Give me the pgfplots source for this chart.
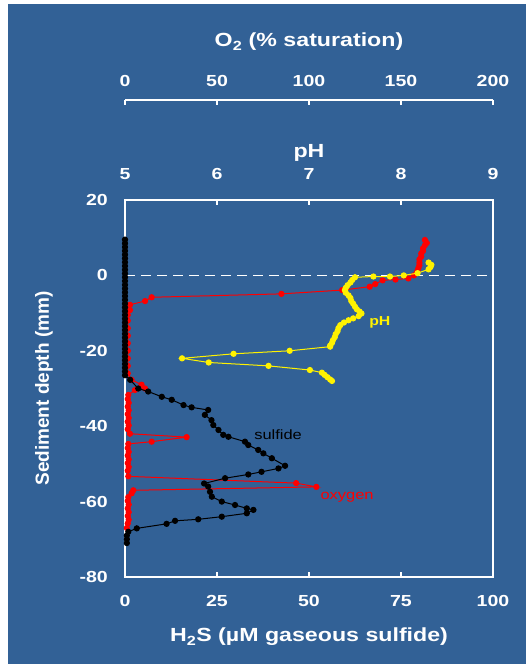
\documentclass[border=0pt]{standalone}
\usepackage{pgfplots}
\pgfplotsset{compat=1.18}
\usepackage{fontspec}
\setmainfont{Liberation Sans}[FakeStretch=1.22]
\newfontfamily\plainfont{Liberation Sans}
\definecolor{bgblue}{RGB}{50,97,150}
\pgfplotsset{
  base/.style={scale only axis, width=368pt, height=377pt,
    at={(125pt,87pt)}, anchor=south west, ymin=-80, ymax=20,
    tick align=inside, major tick length=5pt,
    every tick/.style={white, line width=1.3pt},
    axis line style={white, line width=1.6pt},
    tick label style={font=\bfseries\fontsize{16}{16}\selectfont, text=white, inner sep=0pt},
    /pgf/number format/assume math mode=true,
    label style={font=\bfseries\fontsize{19}{19}\selectfont, text=white}},
  dat/.style={line width=1pt, mark=*, mark size=2.6pt}
}
\begin{document}
\begin{tikzpicture}
\fill[white] (0pt,0pt) rectangle (526pt,664pt);
\fill[bgblue] (8pt,0pt) rectangle (526pt,660pt);
% main axis: H2S
\begin{axis}[base, xmin=0, xmax=100,
  xtick={0,25,50,75,100}, xticklabels={0,25,50,75,100}, xtick pos=left,
  ytick={-80,-60,-40,-20,0,20}, yticklabels={-80,-60,-40,-20,0,20}, ytick pos=left,
  xticklabel style={yshift=-18pt}, yticklabel style={xshift=-17pt},
  xlabel={H\textsubscript{2}S (µM gaseous sulfide)},
  xlabel style={at={(axis description cs:0.5,-0.1724)}, anchor=base},
  ylabel={Sediment depth (mm)},
  ylabel style={at={(axis description cs:-0.22,0.5)}, anchor=center, font=\plainfont\bfseries\fontsize{19}{19}\selectfont}]
\addplot[white, line width=1.2pt, dash pattern=on 10pt off 6pt] coordinates {(0,0) (100,0)};
\end{axis}
% oxygen data
\begin{axis}[base, xmin=0, xmax=200, hide axis]
\addplot[dat, red] coordinates {
(163,9.4) (164,8.6) (163,8.0) (162,7.2) (162,6.5) (161,5.8) (161,5.0) (160,4.2) (160,3.4) (160,2.7)
(159.5,2.0) (159,1.3) (158.5,0.6) (157,0.0) (154,-0.8) (147,-1.1) (140,-1.3) (136,-2.3) (133,-3.0)
(118,-3.9) (85,-4.9) (14.5,-5.8) (10.9,-6.8) (2.7,-7.8) (2.7,-9.2) (1.5,-10.5) (1.5,-12) (1.5,-14)
(1.5,-16) (1.5,-18) (1.5,-20) (1.5,-22) (1.5,-24) (1.5,-26) (3.6,-27.7) (9,-29) (10.9,-30) (5.4,-30.4)
(1.8,-31.7) (1.5,-32.8) (2,-33.8) (1.5,-34.8) (2,-35.8) (1.5,-36.8) (2,-37.8) (1.5,-38.8) (2,-39.8)
(1.5,-40.8) (2.7,-42.0) (33.5,-42.9) (14.5,-44.1) (1.8,-44.7) (1.5,-45.8) (2,-46.8) (1.5,-47.8)
(2,-48.8) (1.5,-49.8) (2,-50.8) (1.5,-51.8) (1.8,-53.3) (93,-55.1) (104,-56.1) (4.5,-57.0) (3.6,-57.8)
(1.8,-58.8) (1.5,-59.8) (2,-60.8) (1.5,-61.8) (2,-62.8) (1.5,-63.8) (2,-64.8) (1.5,-65.8) (1,-67.0)
};
\node[text=red, font=\fontsize{13.5}{13.5}\selectfont] at (axis cs:120.7,-58.9) {oxygen};
\end{axis}
% sulfide data
\begin{axis}[base, xmin=0, xmax=100, hide axis]
\addplot[dat, black] coordinates {
(0,9.5) (0,8.5) (0,7.5) (0,6.5) (0,5.5) (0,4.5) (0,3.5) (0,2.5) (0,1.5) (0,0.5) (0,-0.5) (0,-1.5)
(0,-2.5) (0,-3.5) (0,-4.5) (0,-5.5) (0,-6.5) (0,-7.5) (0,-8.5) (0,-9.5) (0,-10.5) (0,-11.5) (0,-12.5)
(0,-13.5) (0,-14.5) (0,-15.5) (0,-16.5) (0,-17.5) (0,-18.5) (0,-19.5) (0,-20.5) (0,-21.5) (0,-22.5)
(0,-23.5) (0,-24.5) (0,-25.5) (0,-26.5) (1.4,-27.7) (3.6,-30) (6.3,-30.8) (10,-32.2) (12.7,-33)
(15.9,-34.4) (18.1,-35) (22.6,-35.7) (21.7,-37) (23.5,-38.4) (24,-39.7) (25.4,-41) (26.7,-42.3)
(28.1,-42.8) (32.6,-44.1) (33.5,-45) (36.2,-46.3) (37.6,-47.2) (39.9,-48.5) (43.5,-50.5) (41.7,-51.2)
(37.1,-52.1) (33.5,-52.8) (27.2,-53.8) (21.5,-55.2) (22.6,-56) (23.1,-57.4) (23.6,-58.7) (26.3,-60)
(29.9,-60.9) (33.1,-61.8) (34.9,-62.2) (33.1,-63.1) (26.3,-64) (19.9,-64.7) (13.6,-65.1) (11.3,-65.9)
(3.2,-67.1) (0.9,-68) (0.5,-69) (0.5,-70) (0.5,-71)
};
\node[text=black, font=\fontsize{13.5}{13.5}\selectfont] at (axis cs:41.6,-42.3) {sulfide};
\end{axis}
% pH axis and data
\begin{axis}[base, xmin=5, xmax=9, axis x line*=top, axis y line=none,
  xtick={5,6,7,8,9}, xticklabels={5,6,7,8,9}, xticklabel style={yshift=20pt},
  xlabel={pH}, xlabel style={at={(axis description cs:0.5,1.1114)}, anchor=base}]
\addplot[dat, yellow] coordinates {
(8.30,3.4) (8.33,2.8) (8.32,2.2) (8.30,1.6) (8.18,0.6) (8.03,0) (7.88,-0.3) (7.70,-0.3) (7.5,-0.5)
(7.47,-1.2) (7.45,-1.9) (7.42,-2.6) (7.40,-3.3) (7.39,-3.9) (7.40,-4.6) (7.43,-5.3) (7.45,-6.0)
(7.46,-6.8) (7.48,-7.5) (7.50,-8.3) (7.52,-9.0) (7.55,-9.6) (7.57,-10.1) (7.54,-10.8) (7.48,-11.4)
(7.43,-11.9) (7.38,-12.5) (7.34,-13.2) (7.32,-14.0) (7.31,-14.8) (7.29,-15.6) (7.28,-16.4)
(7.26,-17.2) (7.25,-17.9) (7.23,-18.6) (7.23,-18.9) (6.79,-20.0) (6.18,-20.8) (5.62,-22.0)
(5.91,-23.1) (6.56,-24.0) (7.01,-25.1) (7.14,-25.8) (7.17,-26.4) (7.20,-27.0) (7.23,-27.6) (7.25,-28.0)
};
\node[text=yellow, font=\bfseries\fontsize{13}{13}\selectfont] at (axis cs:7.77,-12.4) {pH};
\end{axis}
% O2 scale
\begin{axis}[scale only axis, width=368pt, height=10pt, at={(125pt,564pt)}, anchor=north west,
  xmin=0, xmax=200, ymin=0, ymax=1, axis x line*=top, axis y line=none,
  tick align=inside, major tick length=5pt,
  every tick/.style={white, line width=1.3pt},
  axis line style={white, line width=1.6pt},
  tick label style={font=\bfseries\fontsize{16}{16}\selectfont, text=white, inner sep=0pt},
  /pgf/number format/assume math mode=true,
  xtick={0,50,100,150,200}, xticklabels={0,50,100,150,200}, xticklabel style={yshift=13pt},
  xlabel={O\textsubscript{2} (\% saturation)},
  xlabel style={at={(axis description cs:0.5,1)}, anchor=base, yshift=53pt, font=\bfseries\fontsize{19}{19}\selectfont, text=white}]
\end{axis}
\pgfresetboundingbox
\path[use as bounding box] (0pt,0pt) rectangle (526pt,664pt);
\end{tikzpicture}
\end{document}
